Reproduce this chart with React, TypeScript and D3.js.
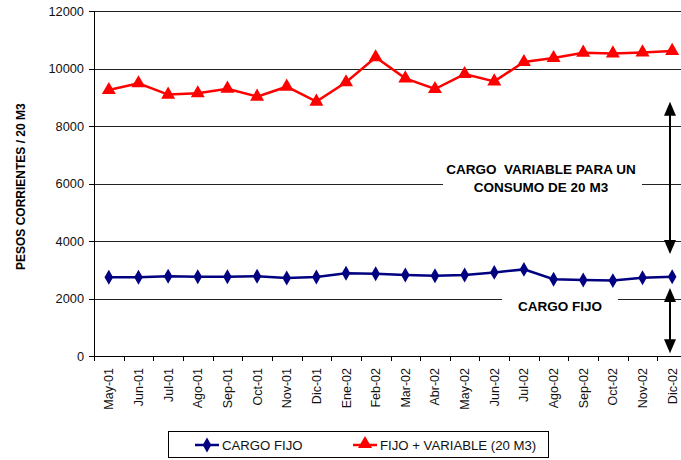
import React from "react";
import * as d3 from "d3";

const months = ["May-01","Jun-01","Jul-01","Ago-01","Sep-01","Oct-01","Nov-01","Dic-01","Ene-02","Feb-02","Mar-02","Abr-02","May-02","Jun-02","Jul-02","Ago-02","Sep-02","Oct-02","Nov-02","Dic-02"];
const cargoFijo = [2740,2740,2775,2760,2760,2775,2715,2750,2880,2865,2820,2795,2820,2910,3015,2670,2645,2625,2725,2760];
const fijoVariable = [9260,9495,9100,9145,9305,9030,9375,8855,9530,10400,9665,9295,9815,9560,10235,10375,10560,10535,10570,10620];
const yTicks = [0,2000,4000,6000,8000,10000,12000];

const W = 681, H = 460;
const FONT = "Liberation Sans, Arial, sans-serif";

export default function App() {
  const x = d3.scaleBand<string>().domain(months).range([94, 687]);
  const y = d3.scaleLinear().domain([0, 12000]).range([356, 11.3]);
  const cx = (m: string) => (x(m) as number) + x.bandwidth() / 2;
  const line = d3.line<number>().x((_, i) => cx(months[i])).y((d) => y(d));
  const arrowX = 670;
  const diamond = d3.symbol().type(d3.symbolDiamond).size(64)();
  const tri = d3.symbol().type(d3.symbolTriangle).size(85)();
  const headDown = (xx: number, yy: number) => `M${xx},${yy} L${xx - 6},${yy - 14} L${xx + 6},${yy - 14} Z`;
  const headUp = (xx: number, yy: number) => `M${xx},${yy} L${xx - 6},${yy + 14} L${xx + 6},${yy + 14} Z`;
  return (
    <svg width={W} height={H} style={{ position: "absolute", left: 0, top: 0, background: "#fff" }} fontFamily={FONT}>
      {yTicks.filter((t) => t > 0).map((t) => (
        <line key={t} x1={94} x2={W} y1={Math.round(y(t)) + 0.5} y2={Math.round(y(t)) + 0.5} stroke="#222" strokeWidth={1} />
      ))}
      {/* annotation boxes */}
      <rect x={443} y={y(6000) - 3} width={199} height={6} fill="#fff" />
      <rect x={502} y={y(2000) - 3} width={116} height={6} fill="#fff" />
      {/* axes */}
      <line x1={94.5} x2={94.5} y1={y(12000)} y2={356.5} stroke="#000" />
      <line x1={94} x2={W} y1={356.5} y2={356.5} stroke="#000" />
      {yTicks.map((t) => (
        <g key={"yt" + t}>
          <line x1={89} x2={94} y1={Math.round(y(t)) + 0.5} y2={Math.round(y(t)) + 0.5} stroke="#000" />
          <text x={84} y={y(t) + 4.5} textAnchor="end" fontSize={12.8} fill="#111">{t}</text>
        </g>
      ))}
      {months.map((m) => (
        <line key={"xt" + m} x1={Math.round(x(m) as number) + 0.5} x2={Math.round(x(m) as number) + 0.5} y1={356} y2={361} stroke="#000" />
      ))}
      {months.map((m) => (
        <text key={"xl" + m} transform={`translate(${cx(m) + 4.5},${368}) rotate(-90)`} textAnchor="end" fontSize={12.5} fill="#111">{m}</text>
      ))}
      <text transform={`translate(25,${(y(12000) + 356) / 2 + 3}) rotate(-90)`} textAnchor="middle" fontSize={12} fontWeight="bold" fill="#000">PESOS CORRIENTES / 20 M3</text>
      {/* series */}
      <path d={line(fijoVariable) || ""} fill="none" stroke="#ff0000" strokeWidth={2.5} />
      {fijoVariable.map((v, i) => (
        <path key={"r" + i} d={tri || ""} transform={`translate(${cx(months[i])},${y(v)})`} fill="#ff0000" />
      ))}
      <path d={line(cargoFijo) || ""} fill="none" stroke="#000080" strokeWidth={2.5} />
      {cargoFijo.map((v, i) => (
        <path key={"b" + i} d={diamond || ""} transform={`translate(${cx(months[i])},${y(v)})`} fill="#000080" />
      ))}
      {/* annotations */}
      <text x={541} y={174} textAnchor="middle" fontSize={13.5} fontWeight="bold" fill="#000" style={{ whiteSpace: "pre" }}>CARGO  VARIABLE PARA UN</text>
      <text x={541} y={192} textAnchor="middle" fontSize={13.5} fontWeight="bold" fill="#000">CONSUMO DE 20 M3</text>
      <text x={560} y={311} textAnchor="middle" fontSize={13.5} fontWeight="bold" fill="#000">CARGO FIJO</text>
      <line x1={arrowX} x2={arrowX} y1={y(8850) + 12} y2={y(3550) - 12} stroke="#000" strokeWidth={2} />
      <path d={headUp(arrowX, y(8850))} fill="#000" />
      <path d={headDown(arrowX, y(3550))} fill="#000" />
      <line x1={arrowX} x2={arrowX} y1={y(2370) + 12} y2={y(100) - 12} stroke="#000" strokeWidth={2} />
      <path d={headUp(arrowX, y(2370))} fill="#000" />
      <path d={headDown(arrowX, y(100))} fill="#000" />
      {/* legend */}
      <rect x={168.5} y={431.5} width={380} height={26} fill="#fff" stroke="#000" />
      <line x1={195} x2={219} y1={445} y2={445} stroke="#000080" strokeWidth={2.5} />
      <path d={diamond || ""} transform="translate(207,445)" fill="#000080" />
      <text x={222} y={450} fontSize={13.2} fill="#111">CARGO FIJO</text>
      <line x1={353} x2={377} y1={445} y2={445} stroke="#ff0000" strokeWidth={2.5} />
      <path d={tri || ""} transform="translate(365,444)" fill="#ff0000" />
      <text x={380} y={450} fontSize={13.2} fill="#111">FIJO + VARIABLE (20 M3)</text>
    </svg>
  );
}
